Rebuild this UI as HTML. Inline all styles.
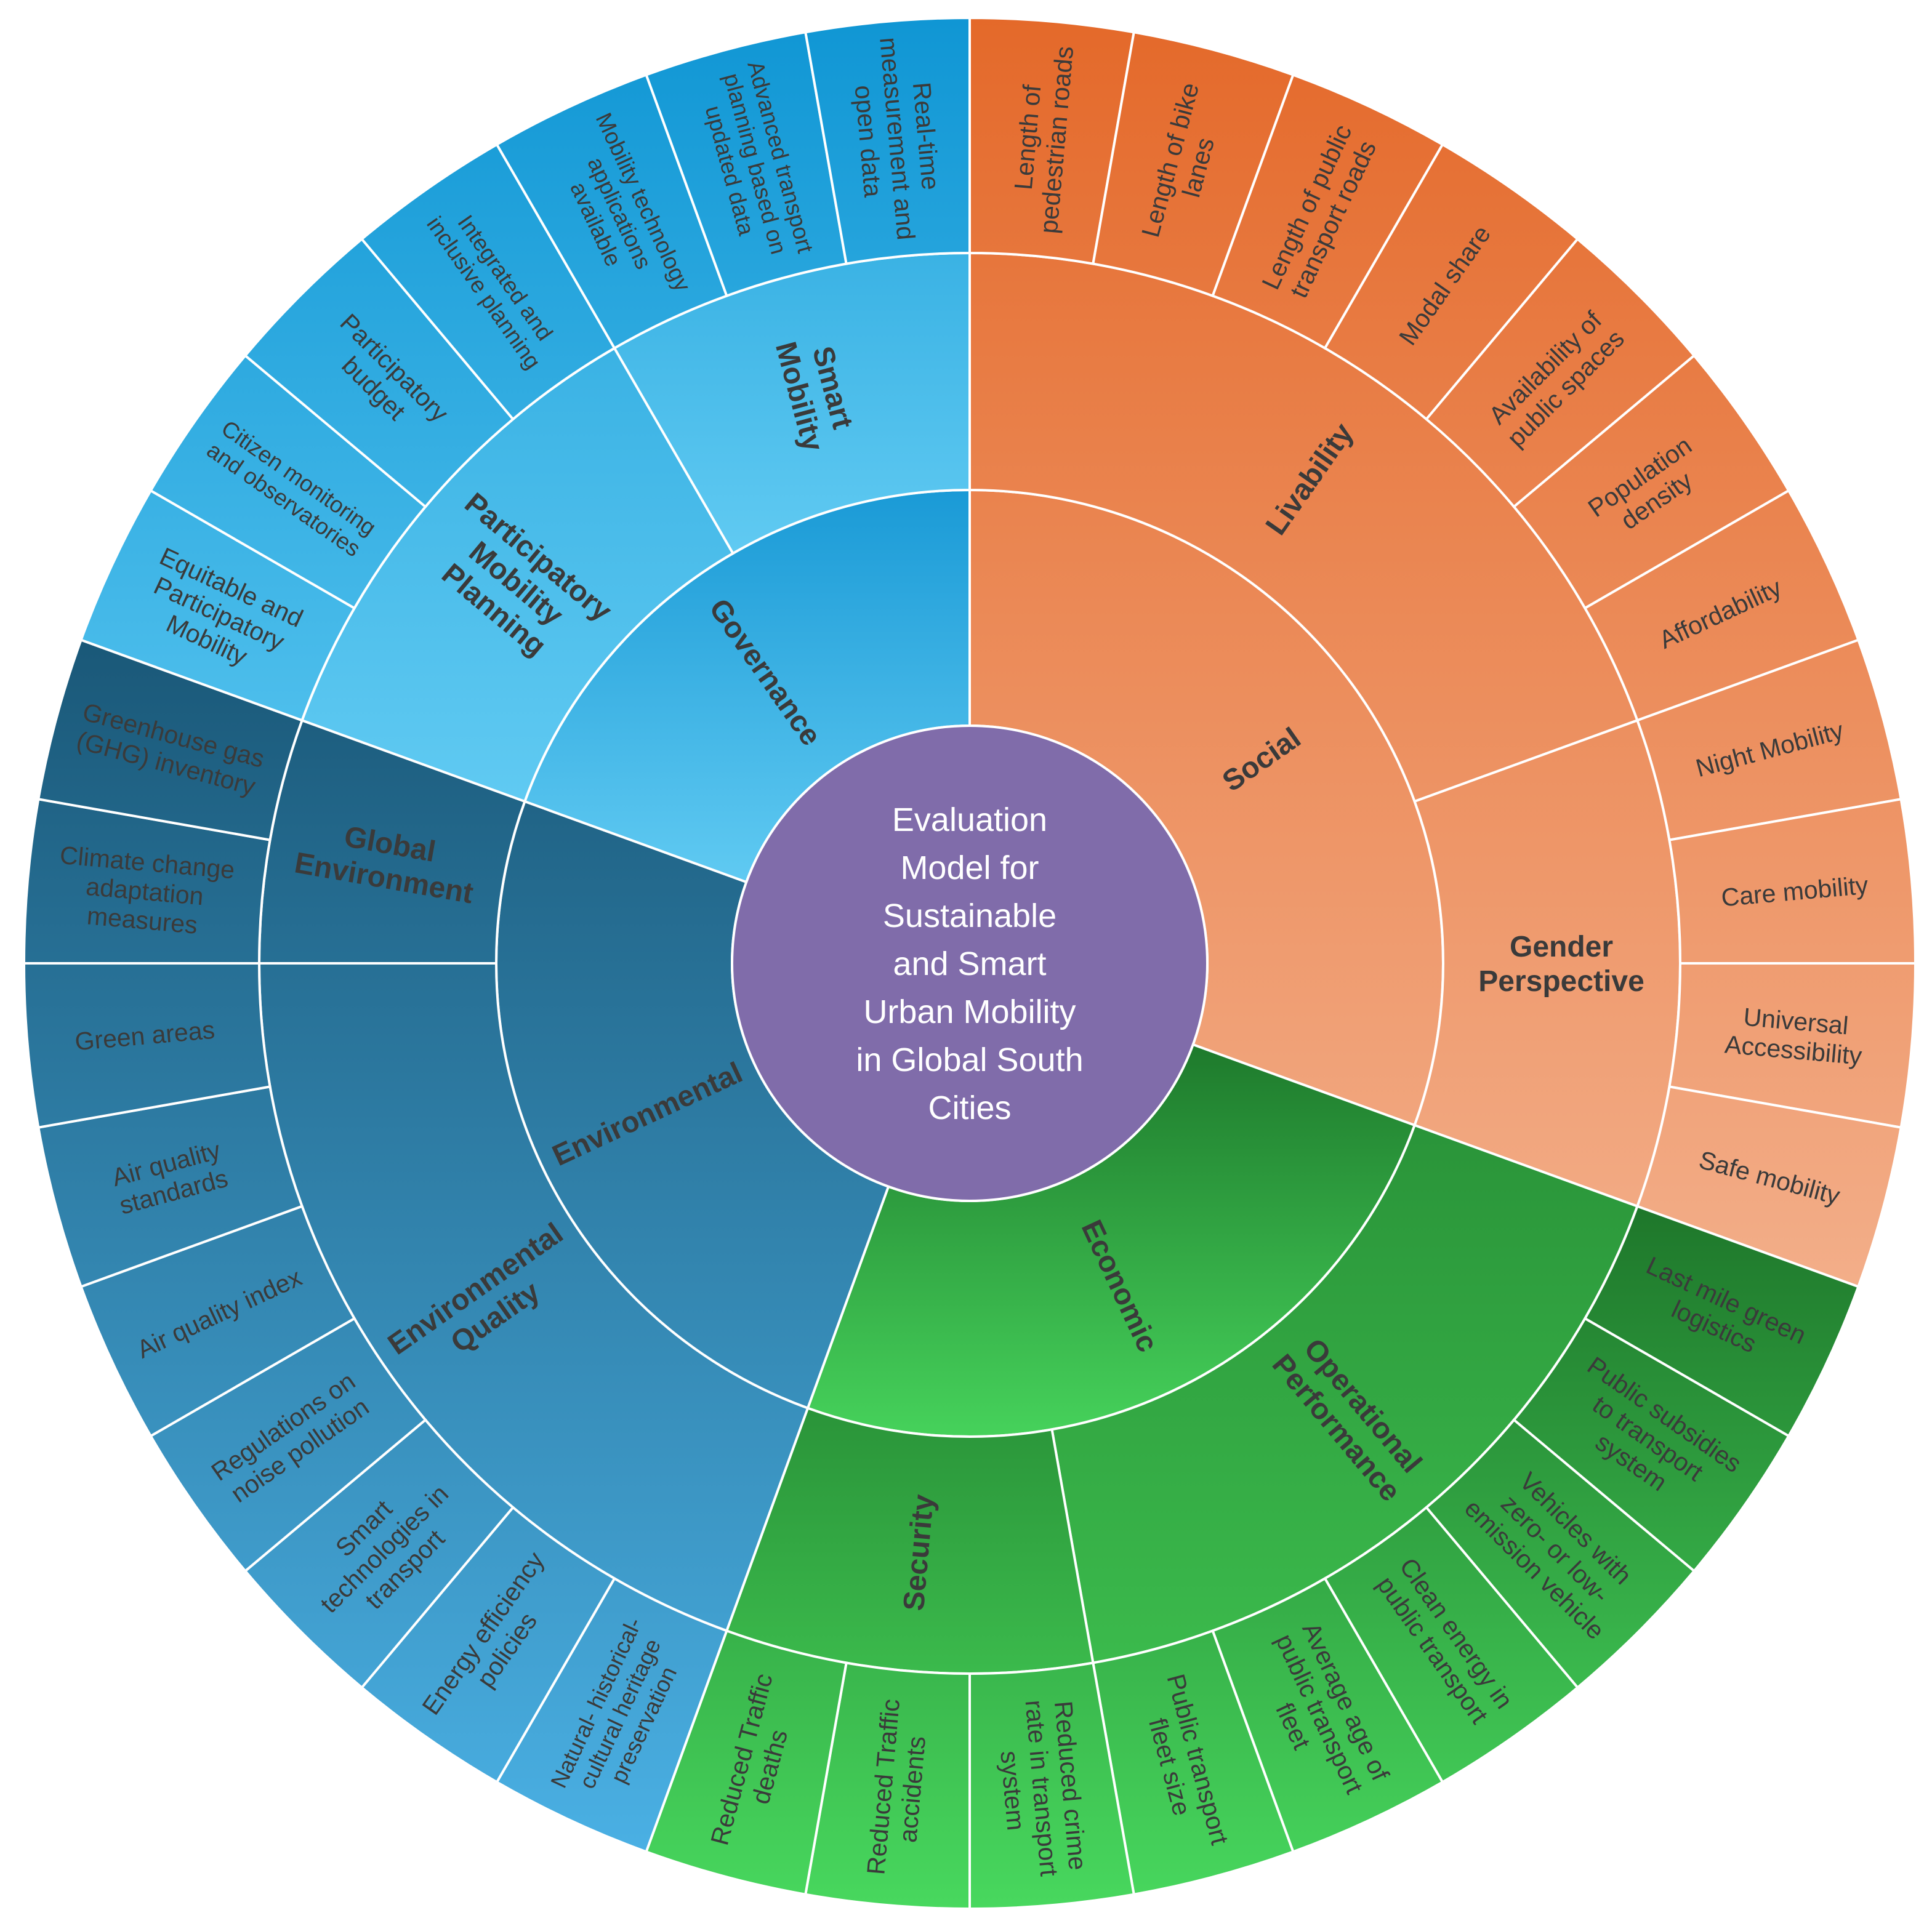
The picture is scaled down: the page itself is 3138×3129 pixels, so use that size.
<!DOCTYPE html>
<html><head><meta charset="utf-8"><style>
html,body{margin:0;padding:0;background:#fff;width:3138px;height:3129px;overflow:hidden}
svg{display:block}
</style></head><body>
<svg id="s" xmlns="http://www.w3.org/2000/svg" width="3138" height="3129" viewBox="0 0 3138 3129">
<defs>
<linearGradient id="gS" gradientUnits="userSpaceOnUse" x1="0" y1="30" x2="0" y2="2090"><stop offset="0" stop-color="#E4692A"/><stop offset="1" stop-color="#F3AE89"/></linearGradient>
<linearGradient id="gE" gradientUnits="userSpaceOnUse" x1="0" y1="1900" x2="0" y2="3100"><stop offset="0" stop-color="#1C7228"/><stop offset="1" stop-color="#48D85E"/></linearGradient>
<linearGradient id="gV" gradientUnits="userSpaceOnUse" x1="0" y1="1040" x2="0" y2="3010"><stop offset="0" stop-color="#1A5878"/><stop offset="1" stop-color="#4AB0E4"/></linearGradient>
<linearGradient id="gG" gradientUnits="userSpaceOnUse" x1="0" y1="30" x2="0" y2="1560"><stop offset="0" stop-color="#1096D4"/><stop offset="1" stop-color="#62CCF4"/></linearGradient>
<linearGradient id="bE1" x1="0" y1="0" x2="0" y2="1"><stop offset="0" stop-color="#1E7A2C"/><stop offset="1" stop-color="#46D25B"/></linearGradient>
<linearGradient id="bE2" x1="0" y1="0" x2="0" y2="1"><stop offset="0" stop-color="#2A9439"/><stop offset="1" stop-color="#3BBA4C"/></linearGradient>
<linearGradient id="bG1" x1="0" y1="0" x2="0" y2="1"><stop offset="0" stop-color="#1A9AD6"/><stop offset="1" stop-color="#60CAF2"/></linearGradient>
<linearGradient id="bG2" x1="0" y1="0" x2="0" y2="1"><stop offset="0" stop-color="#3AB2E4"/><stop offset="1" stop-color="#60CAF2"/></linearGradient>
</defs>
<g id="shapes"></g>
<g id="labels" font-family="Liberation Sans, sans-serif" fill="#3a3a3a"></g>
<circle cx="1575" cy="1565" r="386" fill="#806CAA" stroke="#fff" stroke-width="4"/>
<g font-family="Liberation Sans, sans-serif" font-size="54" fill="#fff" text-anchor="middle">
<text x="1575" y="1350">Evaluation</text>
<text x="1575" y="1428">Model for</text>
<text x="1575" y="1506">Sustainable</text>
<text x="1575" y="1584">and Smart</text>
<text x="1575" y="1662">Urban Mobility</text>
<text x="1575" y="1740">in Global South</text>
<text x="1575" y="1818">Cities</text>
</g>
</svg>
<script>
var CX=1575,CY=1565,R0=386,R1=769,R2=1154,R3=1536;
var NS="http://www.w3.org/2000/svg";
var shapes=document.getElementById('shapes'),labels=document.getElementById('labels');
function P(a,r){var t=a*Math.PI/180;return [CX+r*Math.sin(t),CY-r*Math.cos(t)];}
function sector(a0,a1,r0,r1,fill){
 var p1=P(a0,r1),p2=P(a1,r1),p3=P(a1,r0),p4=P(a0,r0);var lg=(a1-a0)>180?1:0;
 var d="M"+p1+" A"+r1+" "+r1+" 0 "+lg+" 1 "+p2+" L"+p3+" A"+r0+" "+r0+" 0 "+lg+" 0 "+p4+"Z";
 var e=document.createElementNS(NS,'path');e.setAttribute('d',d);e.setAttribute('fill',fill);
 e.setAttribute('stroke','#fff');e.setAttribute('stroke-width','4');shapes.appendChild(e);}
function label(a,r,lines,size,bold,lh){
 var p=P(a,r);var rot=(a<180)?a-90:a-270;
 var t=document.createElementNS(NS,'text');t.setAttribute('font-size',size);
 if(bold)t.setAttribute('font-weight','bold');t.setAttribute('text-anchor','middle');
 t.setAttribute('transform','translate('+p[0]+','+p[1]+') rotate('+rot+')');
 var n=lines.length;
 for(var i=0;i<n;i++){var s=document.createElementNS(NS,'tspan');s.setAttribute('x',0);
  s.setAttribute('y',((i-(n-1)/2)*lh+size*0.35).toFixed(1));s.textContent=lines[i];t.appendChild(s);}
 labels.appendChild(t);}
function grad(a){return a<110?'url(#gS)':a<200?'url(#gE)':a<290?'url(#gV)':'url(#gG)';}
function ring1(a){return (a>=110&&a<200)?'url(#bE1)':(a>=290)?'url(#bG1)':grad(a);}
function ring2(a){return (a>=110&&a<200)?'url(#bE2)':(a>=290)?'url(#bG2)':grad(a);}
[[0,110,'Social'],[110,200,'Economic'],[200,290,'Environmental'],[290,360,'Governance']].forEach(function(c){
 sector(c[0],c[1],R0,R1,ring1(c[0]));label((c[0]+c[1])/2,578,[c[2]],48,true,52);});
[[0,70,['Livability']],[70,110,['Gender','Perspective']],[110,170,['Operational','Performance']],[170,200,['Security']],
 [200,270,['Environmental','Quality']],[270,290,['Global','Environment']],[290,330,['Participatory','Mobility','Planning']],[330,360,['Smart','Mobility']]].forEach(function(c){
 sector(c[0],c[1],R1,R2,ring2(c[0]));label((c[0]+c[1])/2,961,c[2],48,true,56);});
var leaves=[["Length of","pedestrian roads"],["Length of bike","lanes"],["Length of public","transport roads"],["Modal share"],
["Availability of","public spaces"],["Population","density"],["Affordability"],["Night Mobility"],["Care mobility"],
["Universal","Accessibility"],["Safe mobility"],["Last mile green","logistics"],["Public subsidies","to transport","system"],
["Vehicles with","zero- or low-","emission vehicle"],["Clean energy in","public transport"],["Average age of","public transport","fleet"],
["Public transport","fleet size"],["Reduced crime","rate in transport","system"],["Reduced Traffic","accidents"],["Reduced Traffic","deaths"],
["Natural- historical-","cultural heritage","preservation"],["Energy efficiency","policies"],["Smart","technologies in","transport"],
["Regulations on","noise pollution"],["Air quality index"],["Air quality","standards"],["Green areas"],["Climate change","adaptation","measures"],
["Greenhouse gas","(GHG) inventory"],["Equitable and","Participatory","Mobility"],["Citizen monitoring","and observatories"],
["Participatory","budget"],["Integrated and","inclusive planning"],["Mobility technology","applications","available"],
["Advanced transport","planning based on","updated data"],["Real-time","measurement and","open data"]];
leaves.forEach(function(l,i){var a0=i*10;sector(a0,a0+10,R2,R3,grad(a0));
 var fs=l.some(function(s){return s.length>17;})?37:41;label(a0+5,1345,l,fs,false,fs*1.15);});
</script>
</body></html>
